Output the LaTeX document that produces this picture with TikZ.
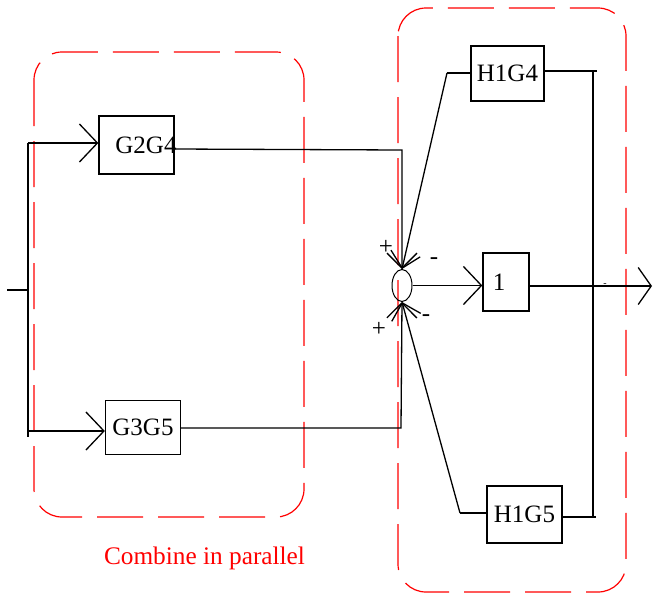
\documentclass[tikz,border=0pt]{standalone}
\usepackage{fontspec}
\setmainfont{Liberation Serif}
\usetikzlibrary{arrows.meta,shapes.geometric,calc}
\begin{document}
\begin{tikzpicture}[x=1pt,y=-1pt,
  blk/.style={draw,line width=1.3pt,inner sep=0pt,font=\fontsize{25}{29}\selectfont},
  wire/.style={line width=1.3pt},
  arr/.style={wire,-{Straight Barb[length=18pt,width=38pt,line width=1.3pt]}},
  sarr/.style={wire,-{Straight Barb[length=15pt,width=30pt,line width=1.3pt]}},
  grp/.style={draw=red,line width=1.2pt,dash pattern=on 46pt off 15pt,rounded corners=28pt},
  sgn/.style={inner sep=0pt,font=\fontsize{25}{29}\selectfont}]
\useasboundingbox (0,0) rectangle (654,598);
% group frames
\draw[grp] (34,52) rectangle (304,517);
\draw[grp] (398,8) rectangle (626,592);
\node[anchor=base,text=red,inner sep=0pt,font=\fontsize{25.3}{29}\selectfont] (lbl) at (204.5,564) {Combine in parallel};
% blocks
\node[blk,minimum width=75pt,minimum height=58pt] (g2g4) at (136.5,145) {\makebox[0pt]{\hspace{19pt}G2G4}};
\node[blk,minimum width=75pt,minimum height=54pt] (g3g5) at (143,427.5) {G3G5};
\node[blk,minimum width=73pt,minimum height=55pt] (h1g4) at (507.5,73.5) {H1G4};
\node[blk,minimum width=75pt,minimum height=57pt] (h1g5) at (524.5,514.5) {H1G5};
\node[blk,minimum width=46pt,minimum height=58pt] (one) at (506,282) {\makebox[0pt]{1\hspace{14pt}}};
\node[draw,ellipse,line width=1pt,minimum width=20pt,minimum height=32pt,inner sep=0pt] (sum) at (402,285.5) {};
% coordinates
\coordinate (in) at (7,290);
\coordinate (bt) at (28,143);
\coordinate (bm) at (28,431);
\coordinate (bb) at (28,437);
\coordinate (c1) at (402,150);
\coordinate (c2) at (401,428);
\coordinate (h4in) at (447,73);
\coordinate (h5in) at (460,513);
\coordinate (rt) at (593,71);
\coordinate (rb) at (593,517);
\coordinate (out) at (652,286);
% input distribution
\draw[wire] (bt) -- (bb);
\draw[wire] (in) -- (in -| bt);
\draw[arr] (bt) -- (bt -| g2g4.west);
\draw[arr] (bm) -- (bm -| g3g5.west);
% into summing junction
\draw[sarr] ($(g2g4.east)+(0,4)$) -- (c1) -- (sum.north);
\draw[sarr] ($(g3g5.east)+(0,0.5)$) -- (c2) -- (sum.south);
\draw[wire] (h1g4.west |- h4in) -- (h4in);
\draw[sarr] (h4in) -- (sum.north);
\draw[wire] (h1g5.west |- h5in) -- (h5in);
\draw[sarr] (h5in) -- (sum.south);
% signs
\node[sgn] (p1) at (386,247) {+};
\node[sgn] (p2) at (379,329) {+};
\node[sgn] (m1) at (434,261) {-};
\node[sgn] (m2) at (426,318) {-};
% forward path
\draw[arr] (sum.east) -- (sum.east -| one.west);
\draw[wire] ($(h1g4.east)+(0,-2.5)$) -- ($(rt)+(4,0)$);
\draw[wire] ($(h1g5.east)+(0,2.5)$) -- ($(rb)+(3,0)$);
\draw[wire] (rt) -- (rb);
\draw[wire,-{Straight Barb[length=13pt,width=37pt,line width=1.3pt]}] (out -| one.east) -- (out);
\node[inner sep=0pt,font=\fontsize{10}{12}\selectfont] (m3) at (605,285.5) {-};
\end{tikzpicture}
\end{document}
